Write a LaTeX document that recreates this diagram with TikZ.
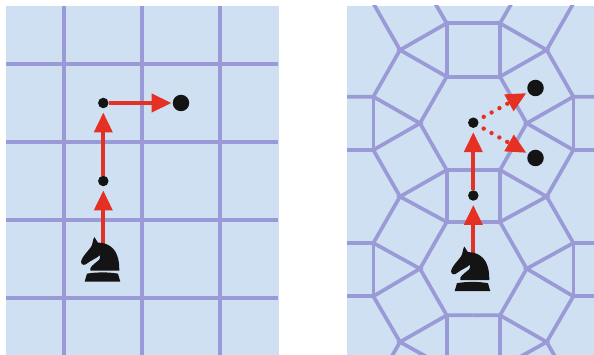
\documentclass[tikz,border=0pt]{standalone}
\usepackage{tikz}
\usetikzlibrary{arrows.meta,calc}
\definecolor{cellBlue}{RGB}{208,224,243}
\definecolor{meshViolet}{RGB}{154,154,214}
\definecolor{moveRed}{RGB}{229,49,35}
\definecolor{pieceBlack}{RGB}{20,20,20}
\tikzset{
  meshline/.style={draw=meshViolet, line width=3.7pt},
  smalldot/.style={circle, fill=pieceBlack, inner sep=0pt, minimum size=10.5pt},
  bigdot/.style={circle, fill=pieceBlack, inner sep=0pt, minimum size=16.5pt},
  piecespot/.style={inner sep=0pt, minimum size=0pt},
  movearrow/.style={-{Triangle[length=20pt,width=18pt]}, moveRed, line width=4pt},
  dotarrow/.style={-{Triangle[length=20pt,width=18pt]}, moveRed, line width=4.4pt,
    line cap=round, dash pattern=on 0pt off 9pt, dash phase=2.5pt, shorten >=2pt},
  knightpiece/.pic={
    \begin{scope}[x=0.3333pt, y=-0.3333pt, shift={(-99,-102)}]
      \fill[pieceBlack] (72,36) -- (83,53) .. controls (110,52) and (132,68) .. (140,90)
        .. controls (146,105) and (147,120) .. (147,137) -- (60,137)
        .. controls (56,128) and (70,118) .. (80,110)
        .. controls (88,104) and (92,98) .. (89,90)
        .. controls (80,100) and (65,104) .. (52,114)
        .. controls (44,122) and (33,122) .. (32,110)
        .. controls (35,95) and (52,80) .. (62,66)
        .. controls (68,58) and (66,46) .. (72,36) -- cycle;
      \fill[pieceBlack] (50,146) .. controls (80,141) and (115,141) .. (143,146)
        -- (150,170) -- (43,170) -- cycle;
    \end{scope}
  }
}

\begin{document}
\begin{tikzpicture}[x=1pt, y=-1pt]
  \useasboundingbox (0,0) rectangle (594,355);
  % square board
  \fill[cellBlue] (6,6) rectangle (279,355);
  \foreach \gx in {64.3,142.3,220.3}
    \draw[meshline] (\gx,6) -- (\gx,355);
  \foreach \gy in {64.3,142.3,220.3,298.3}
    \draw[meshline] (6,\gy) -- (278,\gy);
  % tiled board
  \fill[cellBlue] (347,6) rectangle (594,355);
  \begin{scope}
    \clip (347,6) rectangle (594,355);
    \foreach \side in {1,-1} {
      \begin{scope}[shift={(473.35,0)}, xscale=\side]
        \draw[meshline] (0,23.3) -- (26.65,23.3) -- (26.65,76.7) -- (0,76.7);
        \draw[meshline] (26.65,23.3) -- (46,-10);
        \draw[meshline] (26.65,23.3) -- (73.35,50) -- (26.65,76.7);
        \draw[meshline] (110,-14) -- (73.35,50) -- (100,96.7) -- (140,96.7);
        \draw[meshline] (26.65,76.7) -- (53.35,123.3) -- (26.65,170);
        \draw[meshline] (100,96.7) -- (100,150) -- (140,150);
        \draw[meshline] (100,96.7) -- (53.35,123.3) -- (100,150) -- (73.35,196.6);
        \draw[meshline] (0,170) -- (26.65,170) -- (26.65,222) -- (0,222);
        \draw[meshline] (26.65,170) -- (73.35,196.6) -- (26.65,222);
        \draw[meshline] (73.35,196.6) -- (100,243) -- (140,243);
        \draw[meshline] (100,243) -- (100,296.3) -- (140,296.3);
        \draw[meshline] (100,243) -- (53.35,268.7) -- (100,296.3) -- (73.35,342);
        \draw[meshline] (26.65,222) -- (53.35,268.7) -- (26.65,315.3) -- (0,315.3);
        \draw[meshline] (26.65,315.3) -- (73.35,342) -- (26.65,368);
        \draw[meshline] (26.65,315.3) -- (26.65,368);
        \draw[meshline] (73.35,342) -- (86,364);
      \end{scope}
    }
  \end{scope}
  % left moves
  \node[piecespot] (knightL) at (103.3,259) {};
  \node[smalldot] (stopLa) at (103.3,181) {};
  \node[smalldot] (stopLb) at (103.3,103) {};
  \node[bigdot] (goalL) at (181,103) {};
  \draw[movearrow, shorten >=4pt] (knightL) -- (stopLa);
  \draw[movearrow, shorten >=4pt] (stopLa) -- (stopLb);
  \draw[movearrow, shorten >=1pt] (stopLb) -- (goalL);
  \pic at (knightL) {knightpiece};
  % right moves
  \node[piecespot] (knightR) at (473.3,268.5) {};
  \node[smalldot] (stopRa) at (473.3,195.5) {};
  \node[smalldot] (stopRb) at (473.3,122.7) {};
  \node[bigdot] (goalRa) at (535.5,88) {};
  \node[bigdot] (goalRb) at (535.5,158) {};
  \draw[movearrow, shorten >=4pt] (knightR) -- (stopRa);
  \draw[movearrow, shorten >=4pt] (stopRa) -- (stopRb);
  \draw[dotarrow] (stopRb) -- (goalRa);
  \draw[dotarrow] (stopRb) -- (goalRb);
  \pic at (knightR) {knightpiece};
\end{tikzpicture}
\end{document}
